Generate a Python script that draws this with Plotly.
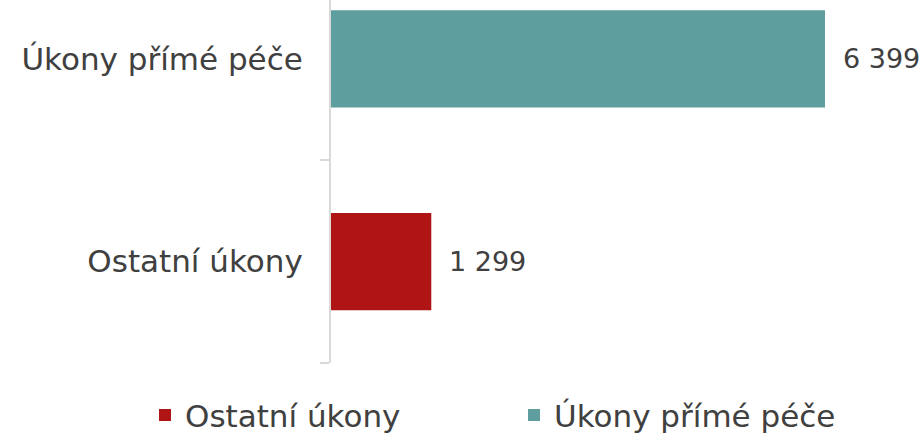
import plotly.graph_objects as go

categories = ["Ostatní úkony", "Úkony přímé péče"]
values = [1299, 6399]
colors = ["#B01515", "#5F9E9E"]

FONT = "DejaVu Sans"
TXT = "#404040"
FS = 31

PLOT_L, PLOT_W, PLOT_H = 331, 593, 363

fig = go.Figure()
for cat, val, col in zip(categories, values, colors):
    fig.add_trace(go.Bar(
        y=[cat], x=[val], orientation="h", name=cat,
        marker=dict(color=col, line=dict(width=0)),
        width=0.48,
    ))
    fig.add_annotation(
        x=val, y=cat, text=f"{val:,}".replace(",", " "),
        showarrow=False, xanchor="left", xshift=16,
        font=dict(family=FONT, size=27, color=TXT),
    )

fig.update_layout(
    width=924, height=437,
    margin=dict(l=PLOT_L, r=924 - PLOT_L - PLOT_W, t=0, b=437 - PLOT_H, autoexpand=False),
    paper_bgcolor="white", plot_bgcolor="white",
    barmode="relative",
    font=dict(family=FONT, size=FS, color=TXT),
    showlegend=True,
    legend=dict(orientation="h",
                x=(145 - PLOT_L) / PLOT_W, xanchor="left", y=-0.07, yanchor="top",
                bgcolor="rgba(0,0,0,0)",
                font=dict(family=FONT, size=FS, color=TXT),
                entrywidth=324, entrywidthmode="pixels", itemwidth=30,
                traceorder="normal"),
    xaxis=dict(range=[0, 6399 * PLOT_W / 494], visible=False, fixedrange=True, automargin=False),
    yaxis=dict(
        type="category", categoryorder="array", categoryarray=categories,
        range=[-0.5, 1.29], automargin=False, fixedrange=True,
        showline=True, linecolor="#D9D9D9", linewidth=2,
        ticks="outside", tickson="boundaries", ticklen=9, tickcolor="#D9D9D9", tickwidth=2,
        ticklabelstandoff=20,
        showgrid=False, zeroline=False,
        tickfont=dict(family=FONT, size=FS, color=TXT),
    ),
)

fig.write_html("out.html", config={"displayModeBar": False},
               post_script="document.body.style.margin='0';")
